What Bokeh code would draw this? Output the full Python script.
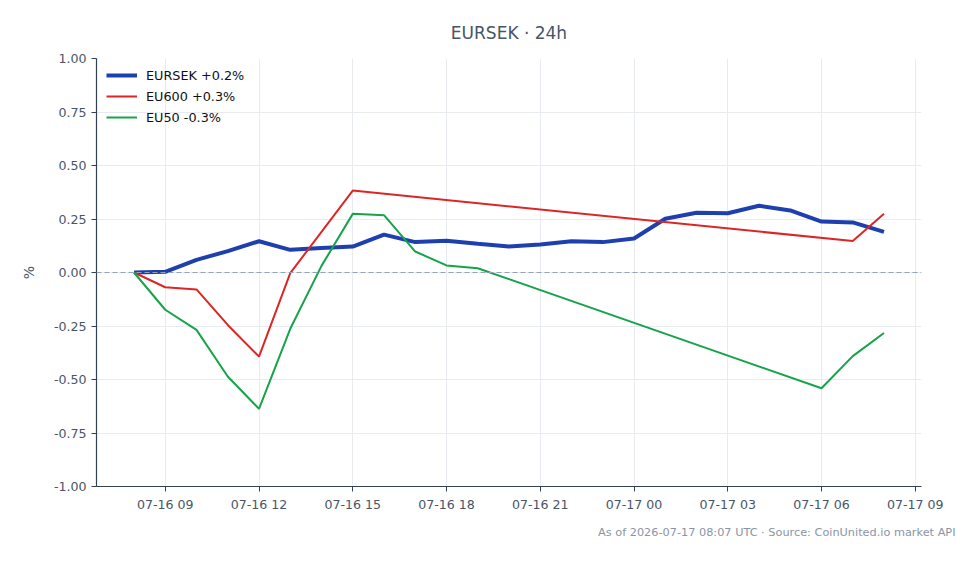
import pandas as pd
from bokeh.plotting import figure
from bokeh.models import (Span, Legend, LegendItem, FixedTicker, DatetimeTickFormatter,
                          NumeralTickFormatter, Title, Range1d)
from bokeh.embed import file_html
from bokeh.resources import INLINE

# ---- data ----
start = pd.Timestamp("2026-07-16 08:00")

eursek_hours = list(range(25))
eursek_vals = [0.000, 0.003, 0.059, 0.100, 0.146, 0.106, 0.115, 0.121, 0.177, 0.142,
               0.148, 0.134, 0.121, 0.131, 0.146, 0.142, 0.159, 0.251, 0.279, 0.277,
               0.312, 0.290, 0.238, 0.234, 0.190]

eu600_hours = [0, 1, 2, 3, 4, 5, 7, 23, 24]
eu600_vals = [0.000, -0.069, -0.079, -0.245, -0.393, -0.003, 0.383, 0.147, 0.274]

eu50_hours = [0, 1, 2, 3, 4, 5, 6, 7, 8, 9, 10, 11, 22, 23, 24]
eu50_vals = [0.000, -0.174, -0.268, -0.486, -0.637, -0.263, 0.031, 0.274, 0.268, 0.098,
             0.033, 0.020, -0.541, -0.391, -0.283]

labels = ["EURSEK +0.2%", "EU600 +0.3%", "EU50 -0.3%"]
colors = ["#1e40af", "#dc2626", "#16a34a"]
title_text = "EURSEK · 24h"
footer_text = "As of 2026-07-17 08:07 UTC · Source: CoinUnited.io market API"
y_ticks = [-1.0, -0.75, -0.5, -0.25, 0.0, 0.25, 0.5, 0.75, 1.0]

def times(hours):
    return [start + pd.Timedelta(hours=h) for h in hours]

FONT = "DejaVu Sans"
AX = "#334155"
TXT = "#475569"

x_start = start - pd.Timedelta(minutes=72)
x_end = start + pd.Timedelta(hours=24, minutes=72)

p = figure(width=978, height=564, x_axis_type="datetime", output_backend="svg",
           toolbar_location=None, x_range=Range1d(x_start, x_end), y_range=Range1d(-1, 1),
           min_border_left=96, min_border_right=57, min_border_top=58, min_border_bottom=78)
p.outline_line_color = None
p.background_fill_color = "white"
p.border_fill_color = "white"

p.title.text = title_text
p.title.align = "center"
p.title.text_font = FONT
p.title.text_font_size = "17px"
p.title.text_font_style = "normal"
p.title.text_color = TXT
p.title.standoff = 32

tick_times = pd.date_range("2026-07-16 09:00", "2026-07-17 09:00", freq="3h")
p.xaxis.ticker = FixedTicker(ticks=[t.value / 1e6 for t in tick_times])
p.xaxis.formatter = DatetimeTickFormatter(hours="%m-%d %H", days="%m-%d %H",
                                          hourmin="%m-%d %H", minutes="%m-%d %H")
p.yaxis.ticker = FixedTicker(ticks=y_ticks)
p.yaxis.formatter = NumeralTickFormatter(format="0.00")
p.yaxis.axis_label = "%"

for ax in (p.xaxis, p.yaxis):
    ax.axis_line_color = AX
    ax.axis_line_width = 1.2
    ax.major_tick_line_color = AX
    ax.major_tick_out = 5
    ax.major_tick_in = 0
    ax.minor_tick_line_color = None
    ax.major_label_text_font = FONT
    ax.major_label_text_font_size = "12.6px"
    ax.major_label_text_color = TXT
    ax.axis_label_text_font = FONT
    ax.axis_label_text_font_size = "14px"
    ax.axis_label_text_font_style = "normal"
    ax.axis_label_text_color = TXT
p.yaxis.axis_label_standoff = 14

p.xgrid.grid_line_color = "#e8ebf0"
p.ygrid.grid_line_color = "#e8ebf0"
p.xgrid.ticker = p.xaxis.ticker
p.ygrid.ticker = p.yaxis.ticker

p.add_layout(Span(location=0, dimension="width", line_color="#94a3b8",
                  line_dash="5 3", line_width=1.2))

r_eursek = p.line(times(eursek_hours), eursek_vals, line_color=colors[0], line_width=4)
r_eu600 = p.line(times(eu600_hours), eu600_vals, line_color=colors[1], line_width=2)
r_eu50 = p.line(times(eu50_hours), eu50_vals, line_color=colors[2], line_width=2)

legend = Legend(items=[LegendItem(label=labels[0], renderers=[r_eursek]),
                       LegendItem(label=labels[1], renderers=[r_eu600]),
                       LegendItem(label=labels[2], renderers=[r_eu50])],
                location=(10, 359), border_line_color=None, background_fill_alpha=0.0,
                label_text_font=FONT, label_text_font_size="12.8px", label_text_color="#111111",
                glyph_width=31, label_standoff=9, spacing=1, padding=2, margin=0)
p.add_layout(legend)

footer = Title(text=footer_text, align="right", text_font=FONT, text_font_size="11.3px",
               text_font_style="normal", text_color="#8a94a6", offset=-34, standoff=18)
p.add_layout(footer, "below")

open("out.html", "w").write(file_html(p, INLINE))
